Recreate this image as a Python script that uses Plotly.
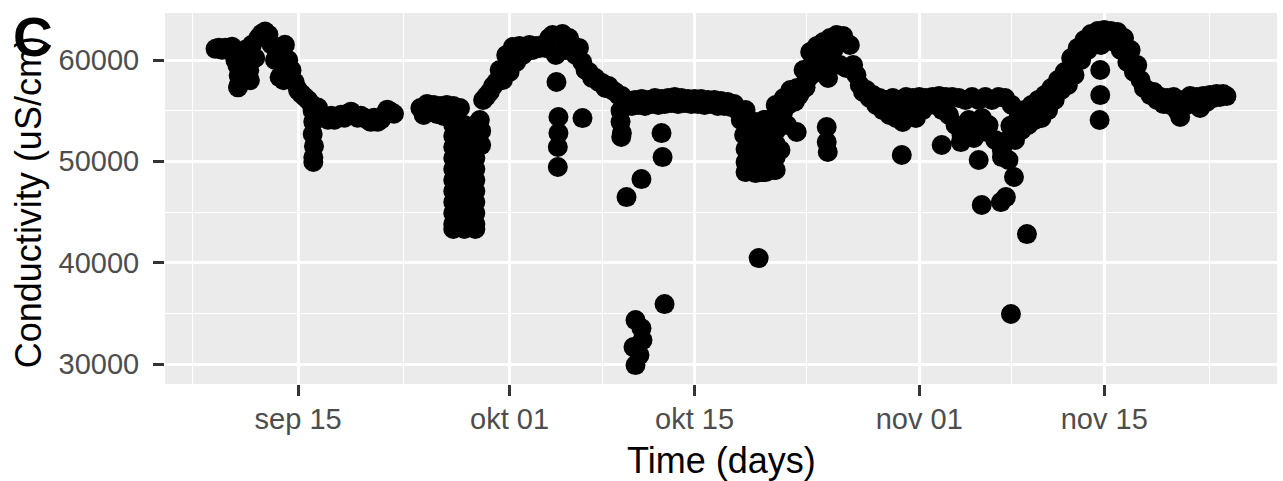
import pandas as pd
import plotly.graph_objects as go

# ---------------- data ----------------
BASE = pd.Timestamp("2019-09-01")          # day 0 for the isolated readings

# Segment A: logger readings every 6 h starting 2019-09-08 18:00
seg_a_start = "2019-09-08 18:00"
cond_a = [61100, 61200, 61000, 61200, 61000, 61300, 60000, 57500, 58800, 61000,
          59500, 61500, 60200, 62200, 62600, 62800, 62500, 61500, 60000, 61000,
          58500, 61500, 60000, 59000, 57800, 57000, 56650, 56350, 56050, 55650,
          55060, 55300, 54600, 54300, 54100, 54500, 54100, 54300, 54600, 54300,
          54700, 54900, 54600, 54300, 54500, 54300, 54100, 53900, 54300, 53900,
          54100, 54600, 55100, 54900, 54700]

# Segment B: logger readings every 6 h starting 2019-09-24 06:00
seg_b_start = "2019-09-24 06:00"
cond_b = [55260, 54570, 55650, 54870, 55560, 54670, 55460, 54470, 55560, 54570,
          55460, 51100, 55260, 46180, 52100, 43700, 48150, 53090, 54080, 56050,
          56440, 56840, 57430, 57830, 59010, 58030, 60490, 58820, 61280, 59800,
          61380, 60490, 61280, 61480, 60990, 61380, 61190, 61480, 61190, 62170,
          62470, 60490, 62370, 62570, 60990, 62170, 61480, 60490, 61190, 59800,
          59010, 58820, 58220, 58220, 57830, 57730, 57240, 57430, 57040, 56840,
          56540, 56440, 56050, 55850, 55460, 56050, 55560, 56150, 55460, 56050,
          55650, 56250, 55560, 56150, 55650, 56250, 55750, 56350, 55650, 56250,
          55750, 56150, 55650, 56150, 55650, 56150, 55560, 56050, 55650, 56050,
          55460, 55950, 55460, 55850, 55360, 55650, 55060, 54080, 52600, 51120,
          53580, 49630, 52100, 48940, 54080, 50130, 52600, 49140, 55060, 51120,
          56250, 53580, 57040, 56530, 57240, 57030, 59010, 58220, 60790, 60000,
          61380, 60490, 61780, 59500, 62170, 60990, 62470, 59500, 62370, 59200,
          61480, 59500, 58520, 57530, 56840, 57040, 56250, 56540, 55560, 56250,
          55060, 56050, 54570, 56250, 54280, 56050, 53880, 56350, 54870, 56250,
          54280, 56350, 55060, 56250, 55560, 56350, 55560, 56440, 55060, 56350,
          54570, 56350, 53580, 56250, 53090, 56050, 54080, 56350, 53290, 56050,
          54280, 56350, 53580, 56050, 52100, 56350, 51120, 56250, 50130, 55560,
          52100, 54280, 53090, 55060, 53580, 55560, 54080, 56050, 54280, 56540,
          55060, 57240, 56050, 58030, 57040, 58820, 57530, 60200, 58520, 61190,
          60000, 61970, 60990, 62570, 61970, 62860, 61480, 62960, 62170, 62860,
          61780, 62760, 60990, 62170, 59800, 60990, 58820, 59500, 58030, 57240,
          57040, 56540, 56840, 56050, 56350, 55650, 56250, 55560, 56350, 55060,
          54380, 56050, 55560, 56440, 55850, 56350, 55260, 56440, 55850, 56540,
          56250, 56640, 56350, 56640, 56440]

# Isolated / scattered readings: days since 2019-09-01 and conductivity
extra_day = [9.4, 9.5, 9.45, 10.3, 10.35, 12.6, 12.9,
             15.1, 15.15, 15.1, 15.2, 15.15, 15.15,
             25.74, 25.74, 25.74, 25.74, 25.74, 25.74, 25.74, 25.74, 25.74, 25.74, 25.74,
             26.58, 26.58, 26.58, 26.58, 26.58, 26.58, 26.58, 26.58, 26.58, 26.58, 26.58,
             27.41, 27.41, 27.41, 27.41, 27.41, 27.41, 27.41, 27.41, 27.41, 27.41, 27.41,
             27.85, 27.85,
             33.55, 33.7, 33.7, 33.65, 33.65, 35.52,
             38.4, 38.4, 38.5, 38.45,
             41.5, 41.58, 39.98, 38.85, 41.73,
             39.53, 39.98, 40.06, 39.38, 39.83, 39.53,
             48.85,
             47.86, 47.86, 47.86, 47.86, 47.86, 47.86,
             48.62, 48.62, 48.62, 48.62, 48.62,
             49.38, 49.38, 49.38, 49.38, 49.38,
             50.14, 50.14, 50.14, 50.14, 50.14, 50.14,
             50.7, 50.7, 50.7,
             51.1, 51.4, 51.6, 51.9, 52.1, 52.4, 52.6, 52.9,
             51.73, 54.0, 54.0, 54.08, 54.1,
             59.68, 62.7, 64.15, 64.2, 65.14, 66.1, 65.5, 65.73,
             67.26, 67.18, 67.56, 68.17, 69.15, 67.94, 67.6, 67.9,
             74.7, 74.7, 74.65]
extra_cond = [59500, 58500, 57300, 59000, 58000, 58300, 58000,
              55000, 53900, 52700, 51500, 50400, 49930,
              53580, 52500, 51410, 50330, 49240, 48150, 47070, 45980, 44900, 43810, 43320,
              53580, 52500, 51410, 50330, 49240, 48150, 47070, 45980, 44900, 43810, 43320,
              53580, 52500, 51410, 50330, 49240, 48150, 47070, 45980, 44900, 43810, 43320,
              53000, 51600,
              57830, 54370, 52790, 51410, 49440, 54270,
              55000, 53900, 52800, 52400,
              52790, 50420, 48250, 46470, 35910,
              34330, 33540, 32360, 31670, 30880, 29890,
              40450,
              55060, 53780, 52500, 51210, 49930, 48940,
              53880, 52600, 51310, 50030, 48840,
              54080, 52790, 51510, 50230, 48940,
              55560, 54270, 52990, 51710, 50420, 49140,
              56050, 54870, 53680,
              55600, 56200, 55900, 56500, 57000, 57300, 58200, 58600,
              52890, 53390, 51900, 50920, 58220,
              50620, 51610, 51900, 52600, 52300, 52900, 50130, 45690,
              50420, 45980, 46470, 48450, 42820, 34930, 52000, 53500,
              59010, 56540, 54080]

x_tickvals = ["2019-09-15", "2019-10-01", "2019-10-15", "2019-11-01", "2019-11-15"]
x_ticktext = ["sep 15", "okt 01", "okt 15", "nov 01", "nov 15"]
x_minor = ["2019-09-07", "2019-09-23", "2019-10-08", "2019-10-23 12:00",
           "2019-11-08", "2019-11-23"]
y_tickvals = [30000, 40000, 50000, 60000]
y_minor = [35000, 45000, 55000]
y_range = [28026, 64638]

# ---------------- build ----------------
t_a = pd.date_range(seg_a_start, periods=len(cond_a), freq="6h")
t_b = pd.date_range(seg_b_start, periods=len(cond_b), freq="6h")
t_e = BASE + pd.to_timedelta(extra_day, unit="D")

times = list(t_a) + list(t_b) + list(t_e)
values = cond_a + cond_b + extra_cond

tmin, tmax = min(times), max(times)
span = tmax - tmin
x_range = [str(tmin - 0.05 * span), str(tmax + 0.05 * span)]

FONT = "Liberation Sans, Arial, Helvetica, sans-serif"

fig = go.Figure(go.Scatter(
    x=times, y=values, mode="markers",
    marker=dict(color="black", size=20, line=dict(width=0)),
    hoverinfo="skip",
))

axis_common = dict(
    showgrid=True, gridcolor="white", gridwidth=2.6,
    ticks="outside", ticklen=11, tickwidth=2.6, tickcolor="#333333",
    tickfont=dict(family=FONT, size=29, color="#4D4D4D"),
    zeroline=False, showline=False, automargin=False,
)

fig.update_layout(
    width=1283, height=481,
    margin=dict(l=165, r=6, t=13, b=97),
    paper_bgcolor="white", plot_bgcolor="#EBEBEB",
    showlegend=False,
    font=dict(family=FONT),
    xaxis=dict(type="date", range=x_range, tickmode="array",
               tickvals=x_tickvals, ticktext=x_ticktext,
               minor=dict(tickmode="array", tickvals=x_minor, showgrid=True,
                          gridcolor="white", gridwidth=1.3, ticks=""),
               ticklabelstandoff=-2,
               **axis_common),
    yaxis=dict(range=y_range, tickmode="array", tickvals=y_tickvals,
               ticktext=[str(v) for v in y_tickvals],
               minor=dict(tickmode="array", tickvals=y_minor, showgrid=True,
                          gridcolor="white", gridwidth=1.3, ticks=""),
               ticklabelstandoff=8,
               **axis_common),
    annotations=[
        dict(text="Time (days)", xref="paper", yref="paper", x=0.5, y=-0.205,
             xanchor="center", yanchor="middle", showarrow=False,
             font=dict(family=FONT, size=36, color="black")),
        dict(text="Conductivity (uS/cm)", xref="paper", yref="paper",
             x=(28 - 165) / 1112, y=0.49, textangle=-90,
             xanchor="center", yanchor="middle", showarrow=False,
             font=dict(family=FONT, size=36, color="black")),
        dict(text="<b>C</b>", xref="paper", yref="paper",
             x=(32.5 - 165) / 1112, y=(384 - 37) / 371,
             xanchor="center", yanchor="middle", showarrow=False,
             font=dict(family=FONT, size=55, color="black")),
    ],
)

fig.write_html("out.html",
               config={"displayModeBar": False},
               post_script="document.body.style.margin='0';document.body.style.padding='0';")
